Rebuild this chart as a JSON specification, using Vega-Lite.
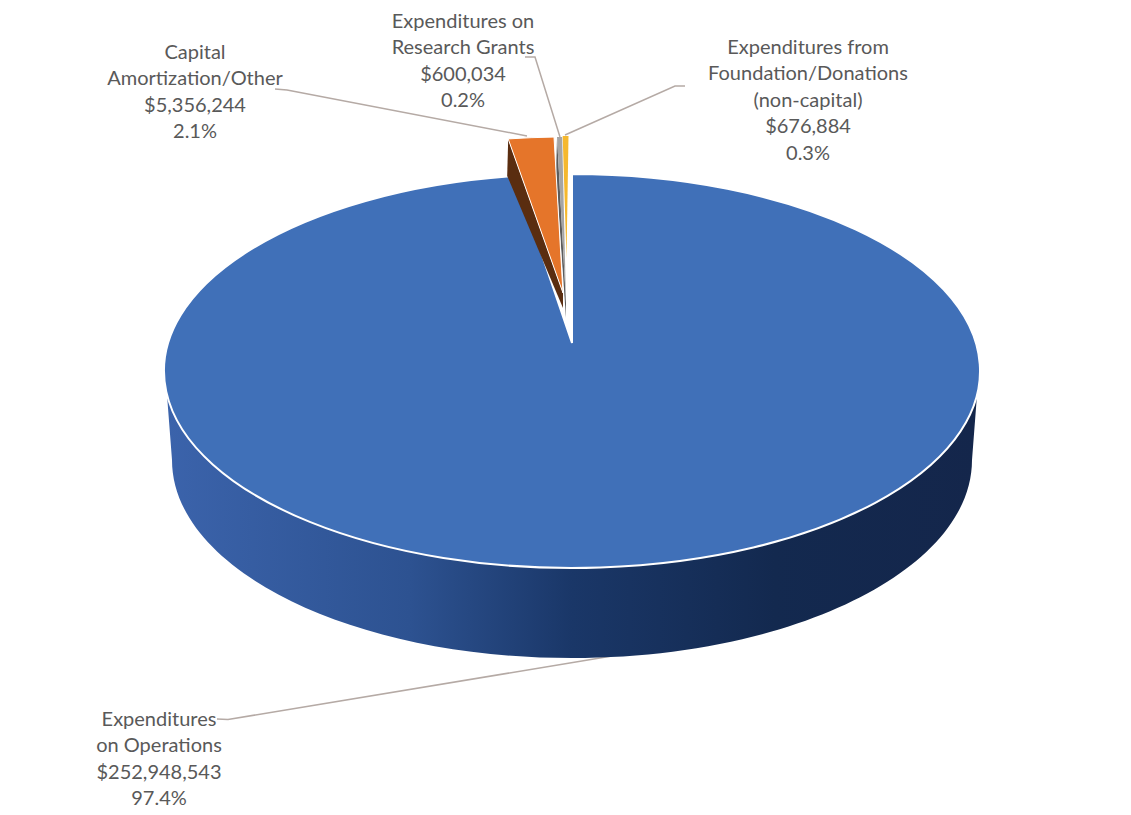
{
  "$schema": "https://vega.github.io/schema/vega-lite/v6.json",
  "width": 1131,
  "height": 815,
  "padding": 0,
  "autosize": "none",
  "background": "#ffffff",
  "view": {"stroke": null},
  "data": {
    "values": [
      {"name": "Operations", "caption": "Expenditures\non Operations", "amount": 252948543},
      {"name": "Capital", "caption": "Capital\nAmortization/Other", "amount": 5356244},
      {"name": "Research", "caption": "Expenditures on\nResearch Grants", "amount": 600034},
      {"name": "Foundation", "caption": "Expenditures from\nFoundation/Donations\n(non-capital)", "amount": 676884}
    ]
  },
  "transform": [
    {"joinaggregate": [{"op": "sum", "field": "amount", "as": "total"}]},
    {"window": [{"op": "sum", "field": "amount", "as": "cum"}], "frame": [null, 0]},
    {"calculate": "datum.amount / datum.total", "as": "share"},
    {"calculate": "(datum.cum - datum.amount) / datum.total", "as": "startShare"},
    {"calculate": "datum.cum / datum.total", "as": "endShare"},
    {"calculate": "{Operations: {ax: 572, ay: 343, cx: 572, cy: 371, fd: 0, fa: 0, sw: 2}, Capital: {ax: 563, ay: 293, cx: 565, cy: 334, fd: 37, fa: 15, sw: 1}, Research: {ax: 566, ay: 303, cx: 568, cy: 334, fd: 37, fa: 15, sw: 0}, Foundation: {ax: 566.5, ay: 258, cx: 568.5, cy: 333, fd: 0, fa: 0, sw: 0}}[datum.name]", "as": "geo"},
    {"calculate": "-(1 - (datum.startShare === 0 ? 1 : datum.startShare)) * 2 * PI * 0.87", "as": "t0"},
    {"calculate": "-(1 - datum.endShare) * 2 * PI * 0.87", "as": "t1"},
    {"calculate": "round((datum.geo.cx + 408 * sin(datum.t0) - datum.geo.ax) * 100) / 100", "as": "x0"},
    {"calculate": "round((datum.geo.cy - 197 * cos(datum.t0) - datum.geo.ay) * 100) / 100", "as": "y0"},
    {"calculate": "round((datum.geo.cx + 408 * sin(datum.t1) - datum.geo.ax) * 100) / 100", "as": "x1"},
    {"calculate": "round((datum.geo.cy - 197 * cos(datum.t1) - datum.geo.ay) * 100) / 100", "as": "y1"},
    {"calculate": "'M0,0L' + datum.x0 + ',' + datum.y0 + 'A408,197 0 ' + (datum.share > 0.5 ? 1 : 0) + ' 1 ' + datum.x1 + ',' + datum.y1 + 'Z'", "as": "topPath"},
    {"calculate": "'M' + datum.x0 + ',' + datum.y0 + 'L' + (datum.x0 - 1) + ',' + (datum.y0 + datum.geo.fd) + 'L0,' + datum.geo.fa + 'L0,0Z'", "as": "facePath"},
    {"calculate": "datum.geo.ax", "as": "apexX"},
    {"calculate": "datum.geo.ay", "as": "apexY"},
    {"calculate": "datum.geo.sw", "as": "edge"},
    {"calculate": "datum.geo.fd", "as": "faceDepth"}
  ],
  "encoding": {
    "x": {"type": "quantitative", "scale": {"domain": [0, 1131]}, "axis": null},
    "y": {"type": "quantitative", "scale": {"domain": [815, 0]}, "axis": null}
  },
  "layer": [
    {
      "transform": [
        {"calculate": "{Operations: [217, 228, 612], Capital: [275, 287, 527], Research: [525, 535, 560], Foundation: [685, 675, 565]}[datum.name]", "as": "lineX"},
        {"calculate": "{Operations: [719, 719.5, 656], Capital: [89, 90, 136], Research: [57, 57, 137], Foundation: [86, 86, 135]}[datum.name]", "as": "lineY"},
        {"calculate": "[0, 1, 2]", "as": "step"},
        {"flatten": ["lineX", "lineY", "step"]}
      ],
      "mark": {"type": "line", "stroke": "#b5aaa5", "strokeWidth": 1.5},
      "encoding": {
        "x": {"field": "lineX", "type": "quantitative", "scale": {"domain": [0, 1131]}, "axis": null},
        "y": {"field": "lineY", "type": "quantitative", "scale": {"domain": [815, 0]}, "axis": null},
        "detail": {"field": "name"},
        "order": {"field": "step"}
      }
    },
    {
      "transform": [{"filter": "datum.name === 'Operations'"}],
      "mark": {
        "type": "point",
        "filled": true,
        "opacity": 1,
        "size": 4,
        "shape": "M-405,52L-400,117A400,198 0 0 0 400,117L405,52Z",
        "fill": {
          "gradient": "linear",
          "x1": 0, "y1": 0, "x2": 1, "y2": 0,
          "stops": [
            {"offset": 0, "color": "#3b63ab"},
            {"offset": 0.3, "color": "#2d5291"},
            {"offset": 0.5, "color": "#1a3768"},
            {"offset": 0.75, "color": "#13294f"},
            {"offset": 1, "color": "#14264b"}
          ]
        }
      },
      "encoding": {
        "x": {"field": "apexX", "type": "quantitative", "scale": {"domain": [0, 1131]}, "axis": null},
        "y": {"field": "apexY", "type": "quantitative", "scale": {"domain": [815, 0]}, "axis": null}
      }
    },
    {
      "transform": [{"filter": "datum.name === 'Operations'"}],
      "mark": {"type": "point", "filled": true, "opacity": 1, "size": 4, "stroke": "#ffffff"},
      "encoding": {
        "x": {"field": "apexX", "type": "quantitative", "scale": {"domain": [0, 1131]}, "axis": null},
        "y": {"field": "apexY", "type": "quantitative", "scale": {"domain": [815, 0]}, "axis": null},
        "shape": {"field": "topPath", "type": "nominal", "scale": null, "legend": null},
        "strokeWidth": {"field": "edge", "type": "quantitative", "scale": null, "legend": null},
        "fill": {"field": "name", "type": "nominal", "legend": null, "scale": {"domain": ["Operations", "Capital", "Research", "Foundation"], "range": ["#4070b8", "#e5752a", "#a5a5a5", "#f5b82e"]}}
      }
    },
    {
      "transform": [{"filter": "datum.faceDepth > 0"}],
      "mark": {"type": "point", "filled": true, "opacity": 1, "size": 4},
      "encoding": {
        "x": {"field": "apexX", "type": "quantitative", "scale": {"domain": [0, 1131]}, "axis": null},
        "y": {"field": "apexY", "type": "quantitative", "scale": {"domain": [815, 0]}, "axis": null},
        "shape": {"field": "facePath", "type": "nominal", "scale": null, "legend": null},
        "fill": {"field": "name", "type": "nominal", "legend": null, "scale": {"domain": ["Capital", "Research"], "range": ["#5a2d10", "#5c5c5c"]}}
      }
    },
    {
      "transform": [{"filter": "datum.name !== 'Operations'"}],
      "mark": {"type": "point", "filled": true, "opacity": 1, "size": 4, "stroke": "#ffffff"},
      "encoding": {
        "x": {"field": "apexX", "type": "quantitative", "scale": {"domain": [0, 1131]}, "axis": null},
        "y": {"field": "apexY", "type": "quantitative", "scale": {"domain": [815, 0]}, "axis": null},
        "shape": {"field": "topPath", "type": "nominal", "scale": null, "legend": null},
        "strokeWidth": {"field": "edge", "type": "quantitative", "scale": null, "legend": null},
        "fill": {"field": "name", "type": "nominal", "legend": null, "scale": {"domain": ["Capital", "Research", "Foundation"], "range": ["#e5752a", "#a5a5a5", "#f5b82e"]}}
      }
    },
    {
      "transform": [
        {"calculate": "datum.caption + '\\n' + format(datum.amount, '$,') + '\\n' + format(datum.share, '.1%')", "as": "labelText"},
        {"calculate": "{Operations: 159, Capital: 195, Research: 463, Foundation: 808}[datum.name]", "as": "labelX"},
        {"calculate": "{Operations: 719.5, Capital: 52.5, Research: 21.5, Foundation: 47.5}[datum.name]", "as": "labelY"}
      ],
      "mark": {
        "type": "text",
        "align": "center",
        "baseline": "middle",
        "font": "Lato",
        "fontSize": 20,
        "lineHeight": 26.6,
        "lineBreak": "\n",
        "fill": "#595959"
      },
      "encoding": {
        "x": {"field": "labelX", "type": "quantitative", "scale": {"domain": [0, 1131]}, "axis": null},
        "y": {"field": "labelY", "type": "quantitative", "scale": {"domain": [815, 0]}, "axis": null},
        "text": {"field": "labelText", "type": "nominal"}
      }
    }
  ],
  "resolve": {"scale": {"fill": "independent"}}
}
